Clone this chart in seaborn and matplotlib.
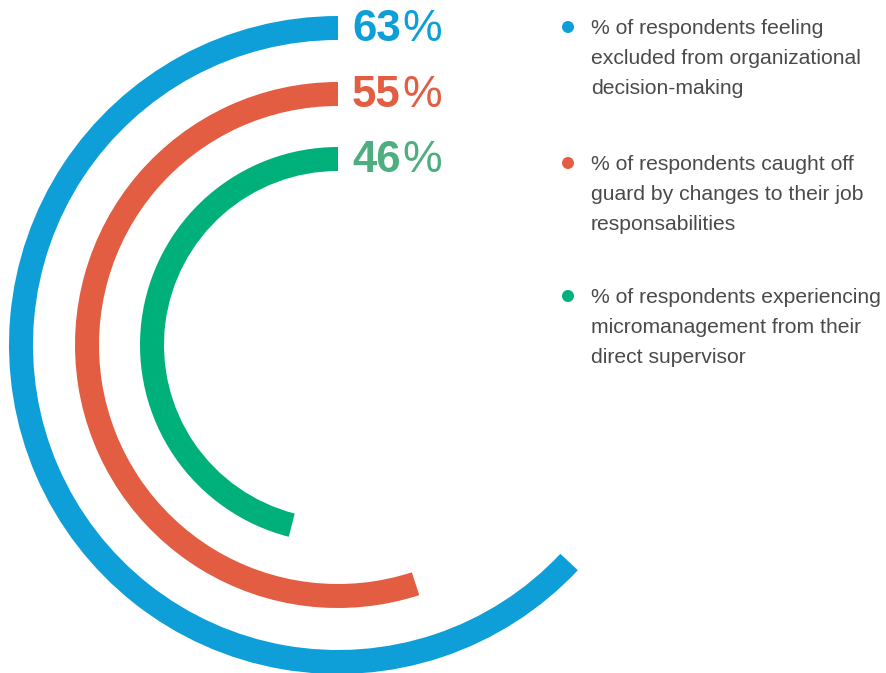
import numpy as np
import matplotlib
matplotlib.use("Agg")
import matplotlib.pyplot as plt
import seaborn as sns

# Survey results (percent of respondents)
labels = [
    "% of respondents feeling\nexcluded from organizational\ndecision-making",
    "% of respondents caught off\nguard by changes to their job\nresponsabilities",
    "% of respondents experiencing\nmicromanagement from their\ndirect supervisor",
]
values = [63, 55, 46]
arc_colors = ["#0E9FD9", "#E35D42", "#00B07A"]
text_colors = ["#0E9FD9", "#E35D42", "#4DAE7F"]

sns.set_theme(style="white")
plt.rcParams["font.family"] = ["Liberation Sans", "DejaVu Sans"]

W, H = 886, 673
fig = plt.figure(figsize=(W / 100, H / 100), dpi=100)
fig.patch.set_facecolor("white")

# Polar axes: one data unit on the radius equals one pixel
cx, cy = 338, 345          # ring centre in pixels (from top-left)
rmax = 335
ax = fig.add_axes([(cx - rmax) / W, (H - cy - rmax) / H, 2 * rmax / W, 2 * rmax / H],
                  projection="polar")
ax.set_theta_zero_location("N")
ax.set_theta_direction(1)
ax.set_ylim(0, rmax)
ax.set_axis_off()

radii = [317, 251, 186]
stroke = 24
for v, r, c in zip(values, radii, arc_colors):
    ax.barh(r, np.deg2rad(v / 100 * 360), left=0, height=stroke,
            color=c, edgecolor="none", align="center")

# Value labels at the start of each arc: bold number, plain percent sign
for v, r, tc in zip(values, radii, text_colors):
    t = ax.annotate(f"{v}", xy=(0, r), xycoords="data",
                    xytext=(14, -13), textcoords="offset pixels",
                    ha="left", va="baseline", fontsize=31.5, fontweight="bold",
                    color=tc)
    ax.annotate("%", xy=(1, 0), xycoords=t, xytext=(2, 0),
                textcoords="offset pixels", ha="left", va="bottom",
                fontsize=32, fontweight="normal", color=tc)

# Legend drawn as bullets with wrapped descriptions
lax = fig.add_axes([0, 0, 1, 1])
lax.set_xlim(0, W)
lax.set_ylim(H, 0)
lax.set_axis_off()
lax.patch.set_alpha(0)
bullet_y = [27, 163, 296]
for lab, c, by in zip(labels, arc_colors, bullet_y):
    lax.scatter([568], [by], s=75, color=c, edgecolor="none")
    lax.text(591, by - 8, lab, ha="left", va="top", fontsize=15.2,
             color="#4a4a4a", linespacing=1.72)

fig.savefig("out.png", dpi=100, facecolor="white")
